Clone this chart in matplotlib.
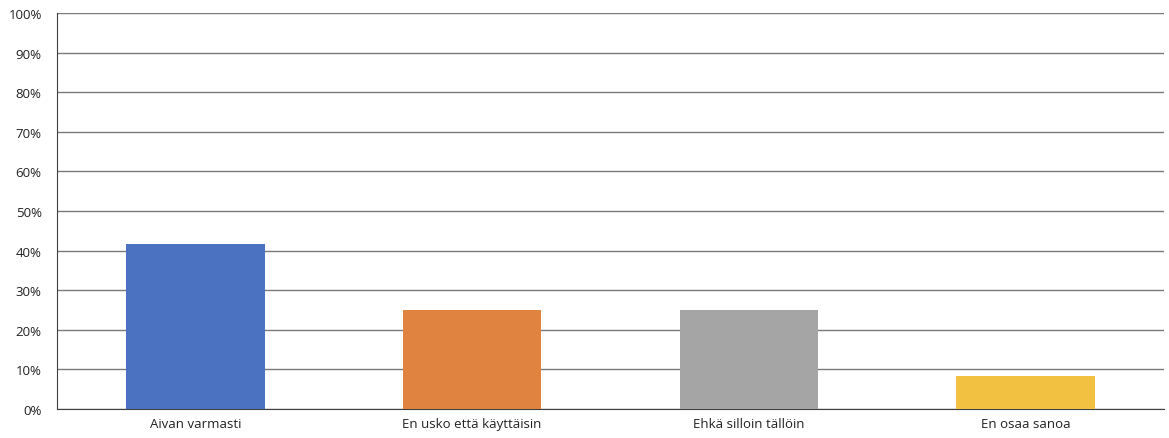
import numpy as np
from matplotlib import pyplot as plt
from matplotlib.ticker import PercentFormatter

categories = ["Aivan varmasti", "En usko että käyttäisin", "Ehkä silloin tällöin", "En osaa sanoa"]
values = [41.7, 25.0, 25.0, 8.3]
colors = ["#4a72c0", "#e08240", "#a5a5a5", "#f2c141"]

plt.rcParams['font.family'] = ['Open Sans', 'DejaVu Sans']

fig = plt.figure(figsize=(11.69, 4.39), dpi=100)
ax = fig.add_axes([57/1169, 1 - 410/439, (1164 - 57)/1169, (410 - 14)/439])

x = np.arange(len(categories))
ax.bar(x, values, width=0.5, color=colors, zorder=3)

ax.set_xlim(-0.5, len(categories) - 0.5)
ax.set_ylim(0, 100)
ax.set_yticks(np.arange(0, 101, 10))
ax.yaxis.set_major_formatter(PercentFormatter(decimals=0))
ax.set_xticks(x)
ax.set_xticklabels(categories)
ax.tick_params(length=0, labelsize=9.5, colors="#222222")
ax.tick_params(axis='y', pad=11)
ax.tick_params(axis='x', pad=6)
ax.grid(axis='y', color="#7a7a7a", linewidth=1.0, zorder=0)

for s in ["top", "right"]:
    ax.spines[s].set_visible(False)
ax.spines["left"].set_color("#404040")
ax.spines["bottom"].set_color("#404040")

fig.savefig("out.png", dpi=100)
